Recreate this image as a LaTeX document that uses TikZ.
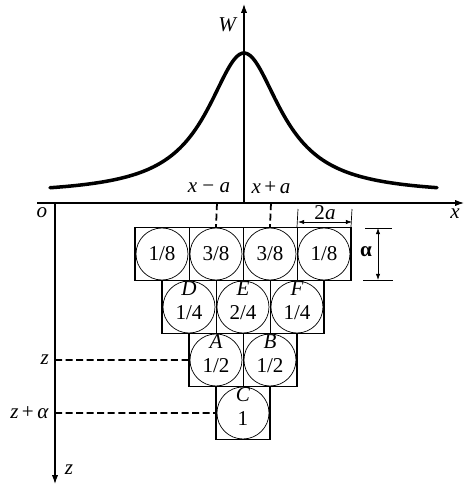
\documentclass[tikz,border=0pt]{standalone}
\usepackage{fontspec}
\setmainfont{Liberation Serif}
\usetikzlibrary{arrows.meta,positioning}
\begin{document}
\begin{tikzpicture}[x=0.02cm, y=-0.02cm, >={Latex[length=5pt,width=3.5pt]}, font=\fontsize{12}{14}\selectfont]
        \tikzset{cell/.style={rectangle, draw, thin, minimum width=1.08cm, minimum height=1.06cm, inner sep=0pt, outer sep=0pt},
                 named/.style={cell, text height=14pt, text depth=0pt, label={[tag]north:#1}},
                 tag/.style={anchor=north, inner sep=0.5pt, font=\fontsize{12}{13}\selectfont\itshape},
                 guide/.style={line width=1pt, dash pattern=on 4pt off 2pt},
                 axis/.style={->, semithick},
                 dim/.style={<->, thin, >={Latex[length=3.5pt,width=2.5pt]}}}
        \useasboundingbox (0,0) rectangle (467,486);
        \node[cell] (top1) at (162,254) {1/8};
        \node[cell, right=0pt of top1] (top2) {3/8};
        \node[cell, right=0pt of top2] (top3) {3/8};
        \node[cell, right=0pt of top3] (top4) {1/8};
        \node[named=D, anchor=north west] (d) at (top1.south) {1/4};
        \node[named=E, anchor=north west] (e) at (top2.south) {2/4};
        \node[named=F, anchor=north west] (f) at (top3.south) {1/4};
        \node[named=A, anchor=north west] (a) at (d.south) {1/2};
        \node[named=B, anchor=north west] (b) at (e.south) {1/2};
        \node[named=C, anchor=north west] (c) at (a.south) {1};
        \foreach \n in {top1,top2,top3,top4,d,e,f,a,b,c}
            \draw[thin] (\n.center) circle[radius=0.52cm];
        \draw[semithick] (top1.north west) -- (top4.north east) -- (top4.south east) -- (f.north east) -- (f.south east)
            -- (b.north east) -- (b.south east) -- (c.north east) -- (c.south east) -- (c.south west) -- (c.north west)
            -- (a.south west) -- (a.north west) -- (d.south west) -- (d.north west) -- (top1.south west) -- cycle;
        \coordinate (o) at (55,203);
        \coordinate (xbeg) at (37,203);
        \coordinate (xend) at (464,203);
        \coordinate (zend) at (55,484);
        \coordinate (wbase) at (244,203);
        \coordinate (wend) at (244,4);
        \draw[axis] (xbeg) -- (xend);
        \draw[axis] (o) -- (zend);
        \draw[axis] (wbase) -- (wend);
        \draw[line width=2pt, line cap=round] plot[domain=50:437, samples=150, smooth] (\x, {195-142/(1+((\x-244)/45)^2)});
        \node (olbl) at (42,213) {\textit{o}};
        \node (xlbl) at (455,214) {\textit{x}};
        \node (wlbl) at (228,25) {\textit{W}};
        \node (zlbl) at (69,470) {\textit{z}};
        \node (xminus) at (209,188) {\textit{x} − \textit{a}};
        \node (xplus) at (271,188) {\textit{x}\,+\,\textit{a}};
        \coordinate (xa) at (217,203);
        \coordinate (xb) at (271,203);
        \draw[guide] (xa) -- (top2.north);
        \draw[guide] (xb) -- (top3.north);
        \coordinate (zl) at (55,360);
        \coordinate (zal) at (55,413);
        \draw[guide] (zl) -- (a.west);
        \draw[guide] (zal) -- (c.west);
        \node[left] (zmark) at (zl) {\textit{z}};
        \node[left] (zamark) at (zal) {\textit{z}\,+\,\textit{α}};
        \coordinate (ta1) at (298,209);
        \coordinate (ta2) at (352,209);
        \draw[thin] (ta1) -- (top4.north west);
        \draw[thin] (ta2) -- (top4.north east);
        \coordinate (da1) at (298,222);
        \coordinate (da2) at (352,222);
        \draw[dim] (da1) -- node[above, inner sep=1pt] (twoa) {2\textit{a}} (da2);
        \coordinate (hb1) at (365,228);
        \coordinate (he1) at (392,228);
        \coordinate (hb2) at (363,280);
        \coordinate (he2) at (393,280);
        \draw[thin] (hb1) -- (he1);
        \draw[thin] (hb2) -- (he2);
        \coordinate (va1) at (378,228);
        \coordinate (va2) at (378,280);
        \draw[dim] (va1) -- (va2);
        \node (alpha) at (366,252) {\textbf{α}};
    \end{tikzpicture}
\end{document}
